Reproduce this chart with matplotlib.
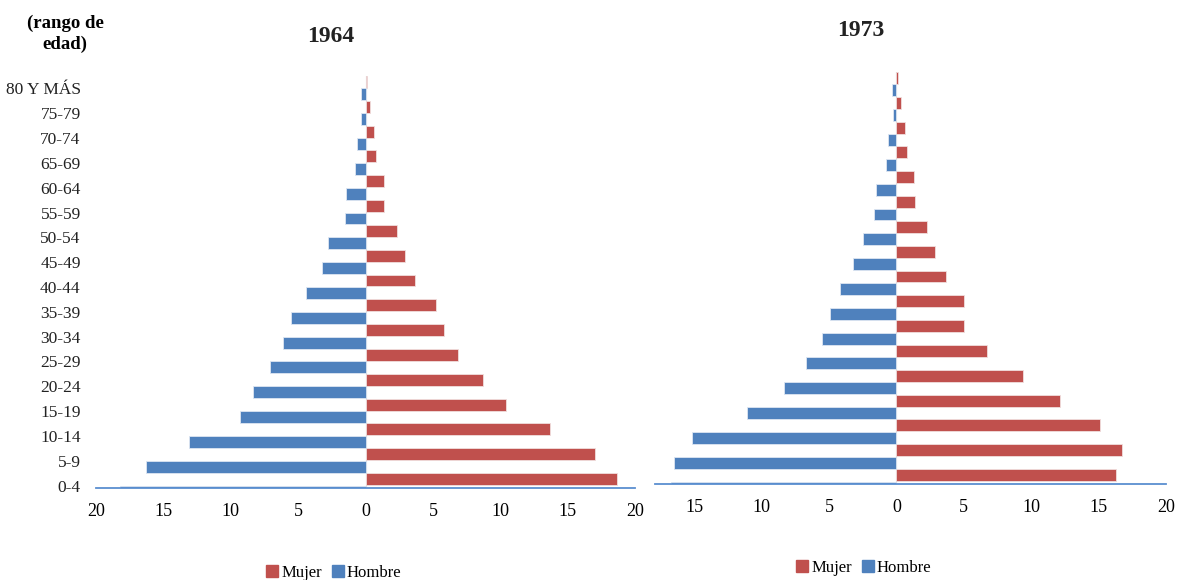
import matplotlib
matplotlib.use("Agg")
import matplotlib.pyplot as plt
from matplotlib.patches import Patch
import numpy as np

plt.rcParams['font.family'] = ['Liberation Serif', 'DejaVu Serif']

## Data (percent of population by age group)
grupos = ["0-4", "5-9", "10-14", "15-19", "20-24", "25-29", "30-34", "35-39",
          "40-44", "45-49", "50-54", "55-59", "60-64", "65-69", "70-74",
          "75-79", "80 Y MÁS"]

mujer_1964 = [18.7, 17.0, 13.7, 10.4, 8.75, 6.9, 5.8, 5.2, 3.7, 2.9, 2.35,
              1.4, 1.38, 0.78, 0.62, 0.35, 0.12]
hombre_1964 = [18.25, 16.3, 13.1, 9.3, 8.35, 7.1, 6.15, 5.55, 4.45, 3.25, 2.8,
               1.55, 1.48, 0.75, 0.6, 0.35, 0.35]

mujer_1973 = [16.3, 16.7, 15.1, 12.15, 9.4, 6.75, 5.0, 5.0, 3.7, 2.87, 2.3,
              1.42, 1.3, 0.79, 0.66, 0.33, 0.15]
hombre_1973 = [16.75, 16.5, 15.15, 11.05, 8.35, 6.7, 5.5, 4.9, 4.2, 3.2, 2.5,
               1.68, 1.5, 0.76, 0.63, 0.23, 0.33]

ROJO = '#C0504D'
AZUL = '#4F81BD'

fig = plt.figure(figsize=(11.77, 5.80), dpi=100)


def piramide(ax, mujer, hombre, xmin, xticks, etiquetas):
    y = np.arange(len(grupos))
    ax.barh(y + 0.26, mujer, height=0.48, color=ROJO, edgecolor='#f0dede', linewidth=0.6)
    ax.barh(y - 0.24, -np.array(hombre), height=0.48, color=AZUL, edgecolor='#dde6f2', linewidth=0.6)
    ax.axvline(0, color='#d9d9d9', linewidth=0.8, zorder=0)
    ax.set_xlim(xmin, 20)
    ax.set_ylim(-0.1, 16.5)
    ax.set_xticks(xticks)
    ax.set_xticklabels([str(abs(t)) for t in xticks], fontsize=13)
    ax.set_yticks(y)
    if etiquetas:
        ax.set_yticklabels(grupos, fontsize=12.5, color='#222222')
    else:
        ax.set_yticklabels([])
    ax.tick_params(axis='both', length=0)
    ax.tick_params(axis='x', pad=11)
    ax.tick_params(axis='y', pad=11)
    for s in ['top', 'right', 'left']:
        ax.spines[s].set_visible(False)
    ax.spines['bottom'].set_color('#5B8FD0')
    ax.spines['bottom'].set_linewidth(1.3)


ax1 = fig.add_axes([96 / 1177, 1 - 488 / 580, 539 / 1177, (488 - 76) / 580])
piramide(ax1, mujer_1964, hombre_1964, -20, list(range(-20, 21, 5)), True)

ax2 = fig.add_axes([655 / 1177, 1 - 484 / 580, 511 / 1177, (484 - 72) / 580])
piramide(ax2, mujer_1973, hombre_1973, -17.9, list(range(-15, 21, 5)), False)

## Titles
fig.text(331 / 1177, 1 - 37 / 580, "1964", fontsize=17, fontweight='bold',
         ha='center', va='center', color='#222222')
fig.text(861 / 1177, 1 - 31 / 580, "1973", fontsize=17, fontweight='bold',
         ha='center', va='center', color='#222222')
fig.text(65 / 1177, 1 - 34 / 580, "(rango de\nedad)", fontsize=13.5,
         fontweight='bold', ha='center', va='center', linespacing=1.3)

## Legends
handles = [Patch(color=ROJO, label='Mujer'), Patch(color=AZUL, label='Hombre')]
for cx, cy in [(334, 573), (864, 568)]:
    fig.legend(handles=handles, loc='center', bbox_to_anchor=(cx / 1177, 1 - cy / 580),
               ncol=2, frameon=False, fontsize=12, handlelength=0.7,
               handleheight=0.7, handletextpad=0.2, columnspacing=0.6,
               borderpad=0)

fig.savefig("out.png", dpi=100)
